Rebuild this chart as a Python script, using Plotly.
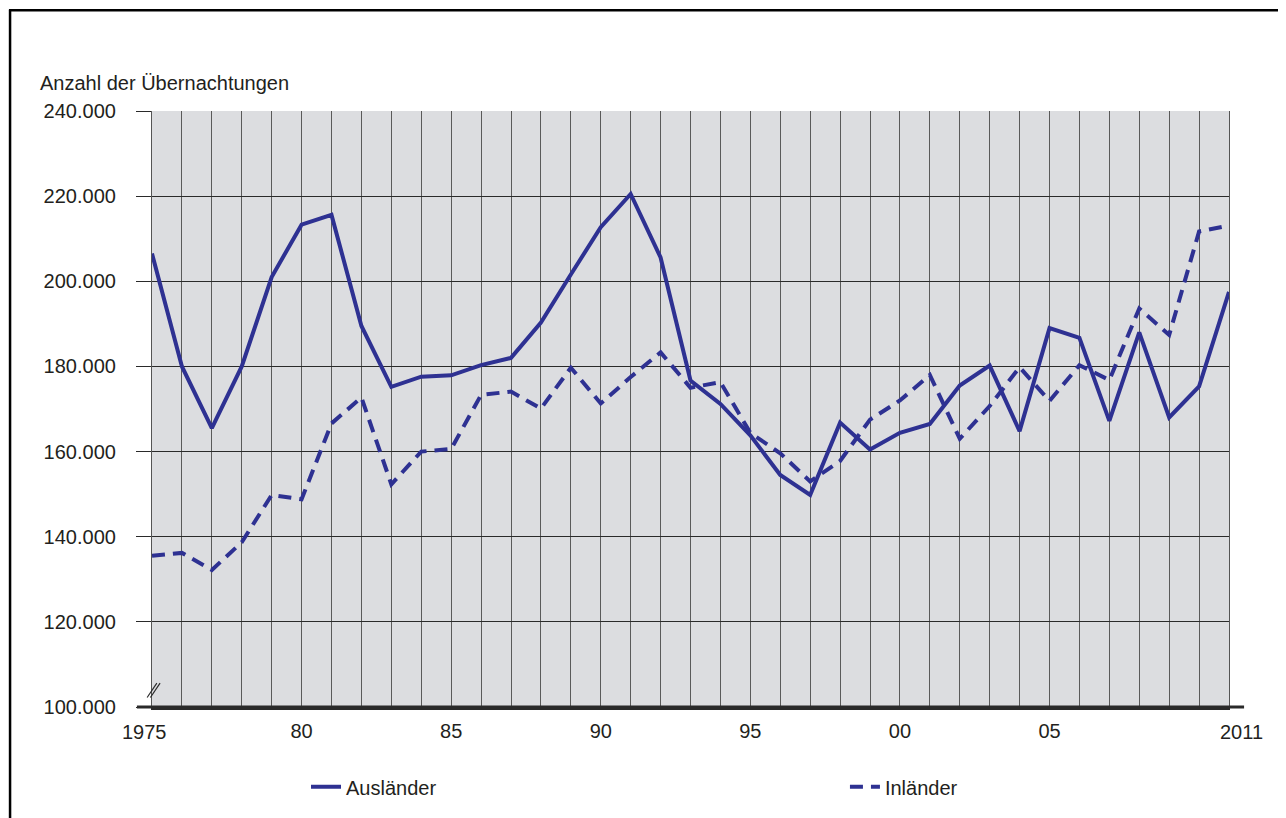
import plotly.graph_objects as go

years = list(range(1975, 2012))
auslaender = [206500, 180000, 165500, 180000, 201000, 213300, 215600, 189500, 175200,
              177600, 177900, 180300, 182000, 190300, 201600, 212700, 220500, 205600,
              176700, 171200, 163800, 154500, 149800, 166800, 160500, 164400, 166500,
              175500, 180200, 164800, 189000, 186700, 167200, 188000, 168000, 175300, 197500]
inlaender = [135500, 136200, 132200, 138700, 149800, 148800, 166600, 172700, 152300,
             160000, 160600, 173300, 174100, 170100, 179700, 171300, 177500, 183300,
             175000, 176300, 164400, 159600, 153000, 157800, 167500, 172000, 178000,
             163000, 170700, 179800, 171900, 180300, 176800, 193600, 187400, 211700, 213100]

x_ticktext = {1975: "", 1980: "80", 1985: "85", 1990: "90", 1995: "95", 2000: "00", 2005: "05", 2011: ""}
y_ticks = [100000, 120000, 140000, 160000, 180000, 200000, 220000, 240000]
y_ticktext = ["100.000", "120.000", "140.000", "160.000", "180.000", "200.000", "220.000", "240.000"]

BLUE = "#2e3192"
TXT = "#231f20"
FONT = "Liberation Sans, Arial, sans-serif"

fig = go.Figure()
fig.add_trace(go.Scatter(x=years, y=auslaender, mode="lines", name="Ausländer",
                         line=dict(color=BLUE, width=4), legend="legend"))
fig.add_trace(go.Scatter(x=years, y=inlaender, mode="lines", name="Inländer",
                         line=dict(color=BLUE, width=4, dash="13px,8px"), legend="legend2"))

leg_common = dict(orientation="h", xanchor="left", y=-0.134, yanchor="middle",
                  font=dict(family=FONT, size=20, color=TXT), bgcolor="rgba(0,0,0,0)")
fig.update_layout(
    width=1278, height=810,
    margin=dict(l=144, r=57, t=103, b=109),
    paper_bgcolor="white", plot_bgcolor="#dcdde0",
    font=dict(family=FONT, size=20, color=TXT),
    showlegend=True,
    legend=dict(x=0.143, **leg_common),
    legend2=dict(x=0.6434, **leg_common),
)
fig.update_xaxes(range=[1975, 2011], tickmode="array", tickvals=years,
                 ticktext=[x_ticktext.get(y, "") for y in years],
                 showgrid=True, gridcolor="#5a5a5a", gridwidth=1.4,
                 showline=True, linecolor="#2a2a2a", linewidth=3, ticks="",
                 ticklabelstandoff=4, zeroline=False)
fig.update_yaxes(range=[100000, 240000], tickmode="array", tickvals=y_ticks, ticktext=y_ticktext,
                 showgrid=True, gridcolor="#2a2a2a", gridwidth=1,
                 showline=True, mirror=True, linecolor="#555555", linewidth=1.2,
                 ticks="outside", ticklen=15, tickcolor="#2a2a2a", tickwidth=1,
                 ticklabelstandoff=16, zeroline=False)

# end labels of x axis (slightly offset outward as in the original)
fig.add_annotation(x=1975, y=0, xref="x", yref="paper", text="1975", showarrow=False,
                   yanchor="top", yshift=-12, xshift=-8, font=dict(size=20, color=TXT))
fig.add_annotation(x=2011, y=0, xref="x", yref="paper", text="2011", showarrow=False,
                   yanchor="top", yshift=-12, xshift=12, font=dict(size=20, color=TXT))
# y axis title
fig.add_annotation(x=-0.106, y=1, xref="paper", yref="paper", text="Anzahl der Übernachtungen",
                   showarrow=False, xanchor="left", yanchor="middle", yshift=28,
                   font=dict(size=20, color=TXT))

# extended x axis line
fig.add_shape(type="line", xref="paper", yref="paper", x0=-0.014, x1=1.014, y0=0, y1=0,
              line=dict(color="#2a2a2a", width=3))
# axis break marks
for dx in (0.0, 0.003):
    fig.add_shape(type="line", xref="paper", yref="paper", x0=-0.0045 + dx, x1=0.0045 + dx,
                  y0=0.016, y1=0.040, line=dict(color="#2a2a2a", width=1.2))
# outer frame (left and top edges)
fig.add_shape(type="line", xref="paper", yref="paper", x0=-0.1318, x1=-0.1318, y0=1.170, y1=-0.3,
              line=dict(color="black", width=2.5))
fig.add_shape(type="line", xref="paper", yref="paper", x0=-0.1328, x1=1.2, y0=1.1689, y1=1.1689,
              line=dict(color="black", width=2.5))

fig.write_html("out.html")
